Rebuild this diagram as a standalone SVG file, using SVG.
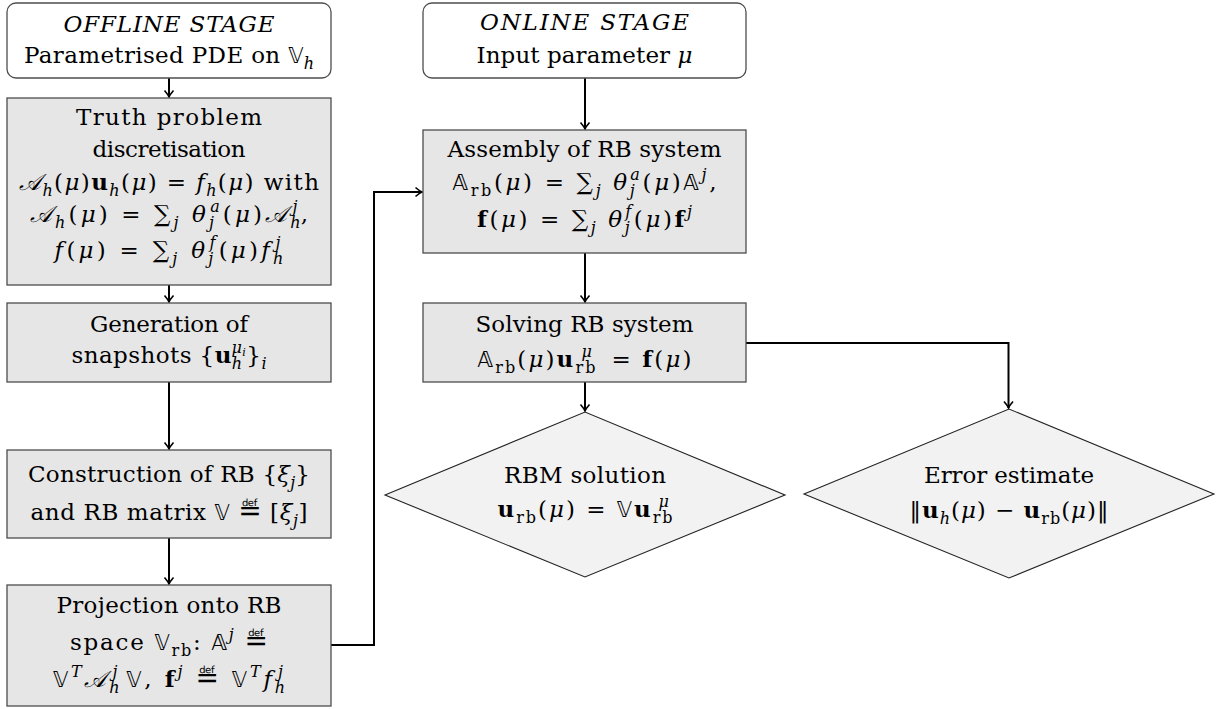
<svg xmlns="http://www.w3.org/2000/svg" width="1218" height="709" viewBox="0 0 1218 709">
<defs>
<style>
.box{fill:#e6e6e6;stroke:#4d4d4d;stroke-width:1.3}
.rnd{fill:#fff;stroke:#4d4d4d;stroke-width:1.3}
.dia{fill:#f2f2f2;stroke:#222;stroke-width:1.1}
.c{fill:none;stroke:#000;stroke-width:2}
.t{font-size:23px;text-anchor:middle;fill:#000}
.i{font-style:italic}
.b{font-weight:bold}
.m{font-family:'DejaVu Sans','DejaVu Serif',sans-serif;font-size:21px;font-style:normal}
.d{font-family:'DejaVu Sans',sans-serif;font-size:28px;font-style:normal}
.s{font-size:16px;baseline-shift:-6px}
.p{font-size:16px;baseline-shift:10px}
.pp{font-size:11px;baseline-shift:7px}
</style>
<marker id="ar" markerWidth="12" markerHeight="12" viewBox="-8 -6 12 12" refX="0" refY="0" orient="auto" markerUnits="userSpaceOnUse">
<path d="M-6.5,-4.5 Q-2.5,-1 0,0 Q-2.5,1 -6.5,4.5" fill="none" stroke="#000" stroke-width="1.6"/>
</marker>
</defs>

<g id="connectors">
<path class="c" marker-end="url(#ar)" d="M169,78 V97"/>
<path class="c" marker-end="url(#ar)" d="M169,285 V302"/>
<path class="c" marker-end="url(#ar)" d="M169,382 V449"/>
<path class="c" marker-end="url(#ar)" d="M169,538 V584"/>
<path class="c" marker-end="url(#ar)" d="M331,645 H374 V192 H422"/>
<path class="c" marker-end="url(#ar)" d="M585,78 V129"/>
<path class="c" marker-end="url(#ar)" d="M585,253 V302"/>
<path class="c" marker-end="url(#ar)" d="M585,382 V411"/>
<path class="c" marker-end="url(#ar)" d="M746,343 H1008.5 V408"/>
</g>

<g font-family="DejaVu Serif, serif">
<g id="offline">
<rect class="rnd" x="7" y="3" width="324" height="75" rx="9"/>
<text class="t i" x="169" y="32" textLength="211">OFFLINE STAGE</text>
<text class="t" x="169" y="63" textLength="290">Parametrised PDE on <tspan class="m">𝕍</tspan><tspan class="s i">h</tspan></text>
</g>

<g id="truth">
<rect class="box" x="7" y="98" width="324" height="187"/>
<text class="t" x="169" y="125" textLength="186">Truth problem</text>
<text class="t" x="169" y="157" textLength="153">discretisation</text>
<text class="t" x="169" y="190" textLength="300"><tspan class="i">𝒜</tspan><tspan class="s i">h</tspan>(<tspan class="i">μ</tspan>)<tspan class="b">u</tspan><tspan class="s i">h</tspan>(<tspan class="i">μ</tspan>) = <tspan class="i">f</tspan><tspan class="s i">h</tspan>(<tspan class="i">μ</tspan>) with</text>
<text class="t" x="169" y="222" textLength="278"><tspan class="i">𝒜</tspan><tspan class="s i">h</tspan>(<tspan class="i">μ</tspan>) = ∑<tspan class="s i">j</tspan> <tspan class="i">θ</tspan><tspan class="s i">j</tspan><tspan class="p i" dx="-7">a</tspan>(<tspan class="i">μ</tspan>)<tspan class="i">𝒜</tspan><tspan class="s i">h</tspan><tspan class="p i" dx="-11">j</tspan>,</text>
<text class="t" x="169" y="258" textLength="232"><tspan class="i">f</tspan>(<tspan class="i">μ</tspan>) = ∑<tspan class="s i">j</tspan> <tspan class="i">θ</tspan><tspan class="s i">j</tspan><tspan class="p i" dx="-7">f</tspan>(<tspan class="i">μ</tspan>)<tspan class="i">f</tspan><tspan class="s i">h</tspan><tspan class="p i" dx="-11">j</tspan></text>
</g>

<g id="generation">
<rect class="box" x="7" y="303" width="324" height="79"/>
<text class="t" x="169" y="332" textLength="158">Generation of</text>
<text class="t" x="169" y="363" textLength="195">snapshots {<tspan class="b">u</tspan><tspan class="s i">h</tspan><tspan class="p i" dx="-11">μ</tspan><tspan class="pp i">i</tspan>}<tspan class="s i">i</tspan></text>
</g>

<g id="construction">
<rect class="box" x="7" y="450" width="324" height="88"/>
<text class="t" x="169" y="482" textLength="282">Construction of RB {<tspan class="i">ξ</tspan><tspan class="s i">j</tspan>}</text>
<text class="t" x="169" y="520" textLength="277">and RB matrix <tspan class="m">𝕍</tspan> <tspan class="d">≝</tspan> [<tspan class="i">ξ</tspan><tspan class="s i">j</tspan>]</text>
</g>

<g id="projection">
<rect class="box" x="7" y="585" width="324" height="121"/>
<text class="t" x="169" y="613" textLength="225">Projection onto RB</text>
<text class="t" x="169" y="650" textLength="198">space <tspan class="m">𝕍</tspan><tspan class="s">rb</tspan>: <tspan class="m">𝔸</tspan><tspan class="p i">j</tspan>  <tspan class="d">≝</tspan></text>
<text class="t" x="169" y="687" textLength="235"><tspan class="m">𝕍</tspan><tspan class="p i">T</tspan><tspan class="i">𝒜</tspan><tspan class="s i">h</tspan><tspan class="p i" dx="-10">j</tspan><tspan class="m" dx="6">𝕍</tspan>, <tspan class="b">f</tspan><tspan class="p i">j</tspan> <tspan class="d">≝</tspan> <tspan class="m">𝕍</tspan><tspan class="p i">T</tspan><tspan class="i">f</tspan><tspan class="s i">h</tspan><tspan class="p i" dx="-10">j</tspan></text>
</g>

<g id="online">
<rect class="rnd" x="423" y="3" width="323" height="75" rx="9"/>
<text class="t i" x="584.5" y="30" textLength="209">ONLINE STAGE</text>
<text class="t" x="584.5" y="63" textLength="216">Input parameter <tspan class="i">μ</tspan></text>
</g>

<g id="assembly">
<rect class="box" x="423" y="130" width="323" height="123"/>
<text class="t" x="584.5" y="157" textLength="274">Assembly of RB system</text>
<text class="t" x="584.5" y="190" textLength="264"><tspan class="m">𝔸</tspan><tspan class="s">rb</tspan>(<tspan class="i">μ</tspan>) = ∑<tspan class="s i">j</tspan> <tspan class="i">θ</tspan><tspan class="s i">j</tspan><tspan class="p i" dx="-7">a</tspan>(<tspan class="i">μ</tspan>)<tspan class="m">𝔸</tspan><tspan class="p i">j</tspan>,</text>
<text class="t" x="584.5" y="227" textLength="215"><tspan class="b">f</tspan>(<tspan class="i">μ</tspan>) = ∑<tspan class="s i">j</tspan> <tspan class="i">θ</tspan><tspan class="s i">j</tspan><tspan class="p i" dx="-7">f</tspan>(<tspan class="i">μ</tspan>)<tspan class="b">f</tspan><tspan class="p i">j</tspan></text>
</g>

<g id="solving">
<rect class="box" x="423" y="303" width="323" height="79"/>
<text class="t" x="584.5" y="332" textLength="218">Solving RB system</text>
<text class="t" x="584.5" y="367" textLength="214"><tspan class="m">𝔸</tspan><tspan class="s">rb</tspan>(<tspan class="i">μ</tspan>)<tspan class="b">u</tspan><tspan class="s">rb</tspan><tspan class="p i" dx="-16">μ</tspan><tspan dx="8"> = </tspan><tspan class="b">f</tspan>(<tspan class="i">μ</tspan>)</text>
</g>

<g id="rbm-solution">
<polygon class="dia" points="385,495 585,412 785,495 585,577"/>
<text class="t" x="585" y="483" textLength="162">RBM solution</text>
<text class="t" x="585" y="517" textLength="177"><tspan class="b">u</tspan><tspan class="s">rb</tspan>(<tspan class="i">μ</tspan>) = <tspan class="m">𝕍</tspan><tspan class="b">u</tspan><tspan class="s">rb</tspan><tspan class="p i" dx="-16">μ</tspan></text>
</g>

<g id="error-estimate">
<polygon class="dia" points="804,494 1009,409 1214,494 1009,578"/>
<text class="t" x="1009" y="483" textLength="170">Error estimate</text>
<text class="t" x="1009" y="518" textLength="199">‖<tspan class="b">u</tspan><tspan class="s i">h</tspan>(<tspan class="i">μ</tspan>) − <tspan class="b">u</tspan><tspan class="s">rb</tspan>(<tspan class="i">μ</tspan>)‖</text>
</g>
</g>
</svg>
